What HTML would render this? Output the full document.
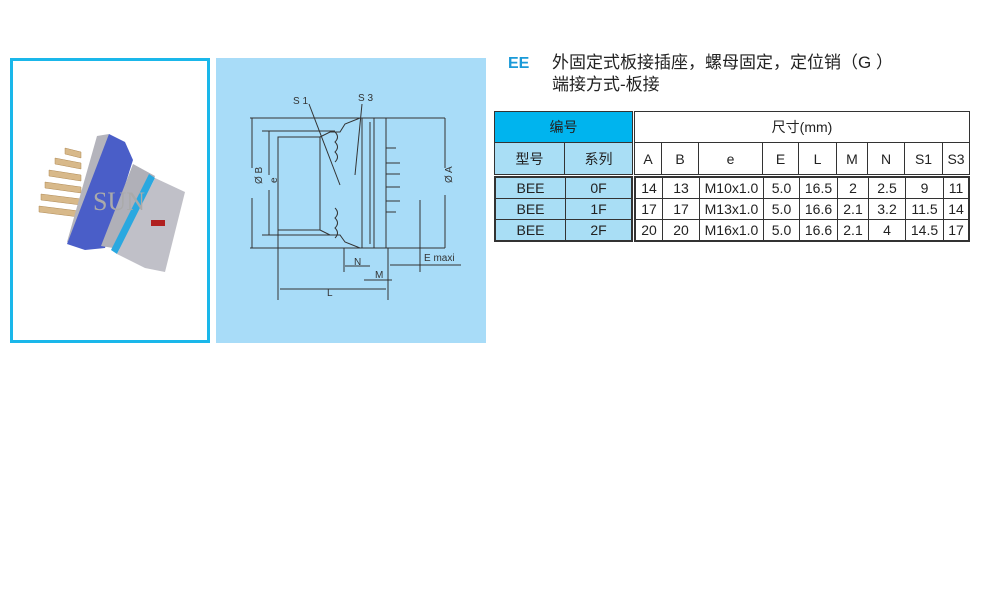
<!DOCTYPE html>
<html><head><meta charset="utf-8"><style>
body{margin:0;width:987px;height:614px;background:#fff;position:relative;overflow:hidden;font-family:"Liberation Sans","Noto Sans CJK SC",sans-serif}
.abs{position:absolute}
table{border-collapse:collapse;position:absolute;font-size:14px;color:#222}
td{border:1px solid #333;text-align:center;padding:0;height:20px}
</style></head><body>
<div class="abs" style="left:10px;top:58px;width:194px;height:279px;border:3px solid #1ab7ea"></div>
<svg class="abs" style="left:5px;top:50px" width="210" height="300" viewBox="0 0 210 300">
 <g fill="#d8b98a" stroke="#b08a55" stroke-width="0.5">
  <polygon points="60,98 76,102 76,108 60,104"/>
  <polygon points="50,108 76,113 76,119 50,114"/>
  <polygon points="44,120 76,125 76,131 44,126"/>
  <polygon points="40,132 76,137 76,143 40,138"/>
  <polygon points="36,144 76,149 76,155 36,150"/>
  <polygon points="34,156 74,161 74,167 34,162"/>
 </g>
 <polygon points="92,86 104,84 76,196 62,192" fill="#b4b4bc"/>
 <polygon points="104,84 120,92 128,110 100,198 80,200 62,194" fill="#4a5ec8"/>
 <polygon points="128,114 150,126 120,200 96,196" fill="#b0b0b8"/>
 <polygon points="144,124 150,128 112,204 106,200" fill="#2aa8e0"/>
 <polygon points="150,128 180,142 160,222 140,218 112,204" fill="#c0c0c8"/>
 <rect x="146" y="170" width="14" height="6" fill="#b02020"/>
 <text x="88" y="160" font-family="Liberation Serif" font-size="26" fill="#aaa">SUN</text>
</svg>
<div class="abs" style="left:216px;top:58px;width:270px;height:285px;background:#a8dcf8"></div>
<svg class="abs" style="left:216px;top:58px" width="270" height="285" viewBox="216 58 270 285" fill="none" stroke="#333" stroke-width="1" font-size="10">
 <line x1="250" y1="118" x2="445" y2="118"/><line x1="250" y1="248" x2="445" y2="248"/>
 <line x1="252" y1="118" x2="252" y2="168"/><line x1="252" y1="198" x2="252" y2="248"/>
 <line x1="262" y1="131" x2="335" y2="131"/><line x1="262" y1="235" x2="335" y2="235"/>
 <line x1="269" y1="131" x2="269" y2="175"/><line x1="269" y1="190" x2="269" y2="235"/>
 <rect x="278" y="137" width="42" height="93"/>
 <polyline points="320,137 330,132 340,132 345,124 360,118 362,118"/>
 <polyline points="320,230 330,235 340,235 345,242 360,248 362,248"/>
 <path d="M335,132 q5,5 0,10 q5,5 0,10 q5,5 0,10 M335,208 q5,5 0,10 q5,5 0,10 q5,5 0,10"/>
 <line x1="362" y1="118" x2="362" y2="248"/><line x1="370" y1="122" x2="370" y2="244"/>
 <line x1="374" y1="118" x2="374" y2="248"/><line x1="386" y1="118" x2="386" y2="248"/>
 <path d="M386,148 h10 M386,163 h14 M386,174 h14 M386,187 h14 M386,201 h14 M386,212 h10"/>
 <line x1="445" y1="118" x2="445" y2="168"/><line x1="445" y1="195" x2="445" y2="248"/>
 <line x1="309" y1="104" x2="340" y2="185"/><line x1="362" y1="104" x2="355" y2="175"/>
 <line x1="278" y1="230" x2="278" y2="300"/><line x1="388" y1="248" x2="388" y2="300"/>
 <line x1="280" y1="289" x2="386" y2="289"/>
 <line x1="344" y1="248" x2="344" y2="272"/><line x1="345" y1="266" x2="370" y2="266"/>
 <line x1="364" y1="280" x2="392" y2="280"/><line x1="390" y1="265" x2="461" y2="265"/>
 <line x1="420" y1="200" x2="420" y2="272"/>
 <g fill="#333" stroke="none" font-family="Liberation Sans">
  <text x="293" y="104">S 1</text><text x="358" y="101">S 3</text>
  <text x="258" y="188" transform="rotate(-90 258 184)">Ø B</text>
  <text x="274" y="186" transform="rotate(-90 274 183)">e</text>
  <text x="445" y="190" transform="rotate(-90 445 183)">Ø A</text>
  <text x="354" y="265">N</text><text x="375" y="278">M</text>
  <text x="424" y="261">E maxi</text><text x="327" y="296">L</text>
 </g>
</svg>
<div class="abs" style="left:508px;top:55px;font-size:16px;font-weight:bold;color:#1a9ad8">EE</div>
<div class="abs" style="left:552px;top:52px;font-size:17px;color:#222;line-height:22px">外固定式板接插座，螺母固定，定位销（G ）<br>端接方式-板接</div>
<table style="left:494px;top:111px;width:139px">
 <tr><td colspan="2" style="height:30px;background:#00b4ee">编号</td></tr>
 <tr><td style="height:31px;background:#a9def5;width:69px">型号</td><td style="background:#a9def5">系列</td></tr>
</table>
<table style="left:494px;top:176px;width:139px;border:2px solid #333">
 <tr><td style="background:#a9def5;width:69px">BEE</td><td style="background:#a9def5">0F</td></tr>
 <tr><td style="background:#a9def5">BEE</td><td style="background:#a9def5">1F</td></tr>
 <tr><td style="background:#a9def5">BEE</td><td style="background:#a9def5">2F</td></tr>
</table>
<table style="left:634px;top:111px;width:336px">
 <tr><td colspan="9" style="height:30px">尺寸(mm)</td></tr>
 <tr style="height:32px"><td style="width:26px">A</td><td style="width:36px">B</td><td style="width:63px">e</td><td style="width:35px">E</td><td style="width:37px">L</td><td style="width:30px">M</td><td style="width:36px">N</td><td style="width:37px">S1</td><td>S3</td></tr>
</table>
<table style="left:634px;top:176px;width:336px;border:2px solid #333">
 <tr><td style="width:26px">14</td><td style="width:36px">13</td><td style="width:63px">M10x1.0</td><td style="width:35px">5.0</td><td style="width:37px">16.5</td><td style="width:30px">2</td><td style="width:36px">2.5</td><td style="width:37px">9</td><td>11</td></tr>
 <tr><td>17</td><td>17</td><td>M13x1.0</td><td>5.0</td><td>16.6</td><td>2.1</td><td>3.2</td><td>11.5</td><td>14</td></tr>
 <tr><td>20</td><td>20</td><td>M16x1.0</td><td>5.0</td><td>16.6</td><td>2.1</td><td>4</td><td>14.5</td><td>17</td></tr>
</table>
</body></html>
